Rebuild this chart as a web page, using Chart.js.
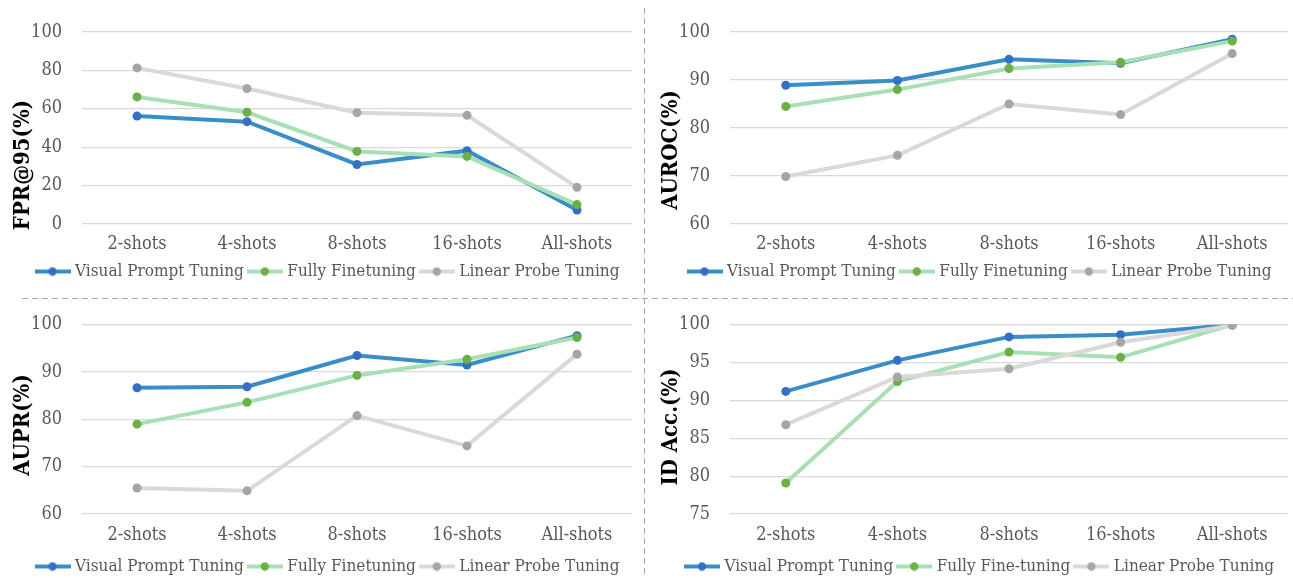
<!DOCTYPE html>
<html>
<head>
<meta charset="utf-8">
<script src="https://cdn.jsdelivr.net/npm/chart.js@4.4.0/dist/chart.umd.min.js"></script>
<style>
  body { margin: 0; background: #fff; width: 1293px; height: 578px; position: relative; overflow: hidden; }
  .panel { position: absolute; }
  .vdash { position: absolute; left: 644px; top: 8px; width: 1px; height: 570px;
    background: repeating-linear-gradient(to bottom, #a6a6a6 0 6px, transparent 6px 10px); }
  .hdash { position: absolute; left: 22px; top: 298px; height: 1px; width: 1271px;
    background: repeating-linear-gradient(to right, #a6a6a6 0 6px, transparent 6px 10px); }
</style>
</head>
<body>
<div class="panel" style="left:0;top:0;width:644px;height:298px"><canvas id="fpr"></canvas></div>
<div class="panel" style="left:645px;top:0;width:648px;height:298px"><canvas id="auroc"></canvas></div>
<div class="panel" style="left:0;top:294px;width:644px;height:304px"><canvas id="aupr"></canvas></div>
<div class="panel" style="left:645px;top:294px;width:648px;height:304px"><canvas id="acc"></canvas></div>
<div class="vdash"></div>
<div class="hdash"></div>

<script>
// === Data ===
const categories = ['2-shots', '4-shots', '8-shots', '16-shots', 'All-shots'];
const seriesNames = ['Visual Prompt Tuning', 'Fully Finetuning', 'Linear Probe Tuning'];
const seriesNamesAcc = ['Visual Prompt Tuning', 'Fully Fine-tuning', 'Linear Probe Tuning'];

const fprVpt = [56.2, 53.3, 31.0, 38.2, 7.3];
const fprFull = [66.2, 58.2, 37.8, 35.2, 10.1];
const fprLinear = [81.3, 70.6, 58.0, 56.6, 19.1];

const aurocVpt = [88.9, 89.9, 94.3, 93.5, 98.5];
const aurocFull = [84.5, 88.0, 92.4, 93.7, 98.1];
const aurocLinear = [69.9, 74.3, 85.0, 82.8, 95.5];

const auprVpt = [86.7, 86.9, 93.5, 91.5, 97.7];
const auprFull = [79.0, 83.6, 89.3, 92.7, 97.3];
const auprLinear = [65.5, 64.9, 80.8, 74.4, 93.8];

const accVpt = [91.2, 95.3, 98.4, 98.7, 100.0];
const accFull = [79.1, 92.5, 96.4, 95.7, 100.0];
const accLinear = [86.8, 93.1, 94.2, 97.7, 99.9];

// axis ranges: [min, max, step]
const fprRange = [0, 100, 20];
const aurocRange = [60, 100, 10];
const auprRange = [60, 100, 10];
const accRange = [75, 100, 5];

// === Styles ===
const lineColors = ['#3a8ec8', '#a8dfb4', '#d9d9d9'];
const pointColors = ['#3370c5', '#6bb045', '#a5a5a5'];
const serif = '"DejaVu Serif Condensed", "DejaVu Serif", serif';

function legendIcon(lineColor, pointColor) {
  const c = document.createElement('canvas');
  c.width = 36; c.height = 10;
  const g = c.getContext('2d');
  g.strokeStyle = lineColor; g.lineWidth = 4;
  g.beginPath(); g.moveTo(0, 5); g.lineTo(36, 5); g.stroke();
  g.fillStyle = pointColor;
  g.beginPath(); g.arc(18, 5, 4.2, 0, Math.PI * 2); g.fill();
  return c;
}
const icons = lineColors.map((c, i) => legendIcon(c, pointColors[i]));

// rotated y title, placed like the original
const axisTitle = {
  id: 'axisTitle',
  afterDraw(chart, args, opts) {
    const ctx = chart.ctx;
    ctx.save();
    ctx.translate(opts.x, opts.y);
    ctx.rotate(-Math.PI / 2);
    ctx.font = 'bold 22px ' + serif;
    ctx.fillStyle = '#000';
    ctx.textAlign = 'center';
    ctx.textBaseline = 'middle';
    ctx.fillText(opts.text, 0, 0);
    ctx.restore();
  }
};

function makeChart(id, names, values, range, title, pad, titlePos) {
  const datasets = values.map((v, i) => ({
    label: names[i],
    data: v,
    borderColor: lineColors[i],
    backgroundColor: pointColors[i],
    pointBackgroundColor: pointColors[i],
    pointBorderWidth: 0,
    pointRadius: 4.5,
    borderWidth: 4,
    tension: 0,
    order: 3 - i
  }));

  return new Chart(document.getElementById(id), {
    type: 'line',
    data: { labels: categories, datasets: datasets },
    plugins: [axisTitle],
    options: {
      responsive: true,
      maintainAspectRatio: false,
      animation: false,
      layout: { padding: { left: pad.left, right: pad.right, top: pad.top, bottom: pad.bottom } },
      plugins: {
        tooltip: { enabled: false },
        axisTitle: { text: title, x: titlePos[0], y: titlePos[1] },
        legend: {
          position: 'bottom',
          labels: {
            usePointStyle: true,
            pointStyleWidth: 28,
            padding: 7,
            color: '#595959',
            font: { family: serif, size: 17 },
            sort: (a, b) => a.datasetIndex - b.datasetIndex,
            generateLabels(chart) {
              const items = Chart.defaults.plugins.legend.labels.generateLabels(chart);
              items.forEach(it => { it.pointStyle = icons[it.datasetIndex]; });
              return items;
            }
          }
        }
      },
      scales: {
        x: {
          offset: true,
          grid: { display: false },
          border: { display: false },
          ticks: { color: '#595959', font: { family: serif, size: 18 }, padding: pad.tick },
          afterFit: s => { s.height = pad.xh; }
        },
        y: {
          min: range[0],
          max: range[1],
          ticks: { stepSize: range[2], color: '#595959', font: { family: serif, size: 18 }, padding: 20 },
          grid: { color: '#d9d9d9', lineWidth: 1.3, drawTicks: false },
          border: { display: false },
          afterFit: s => { s.width = pad.yw; }
        }
      }
    }
  });
}

makeChart('fpr', seriesNames, [fprVpt, fprFull, fprLinear], fprRange, 'FPR@95(%)',
  { left: 26, right: 12, top: 32, bottom: 8, yw: 56, xh: 32, tick: 2 }, [23, 165]);
makeChart('auroc', seriesNames, [aurocVpt, aurocFull, aurocLinear], aurocRange, 'AUROC(%)',
  { left: 29, right: 5, top: 32, bottom: 8, yw: 56, xh: 32, tick: 2 }, [26, 150]);
makeChart('aupr', seriesNames, [auprVpt, auprFull, auprLinear], auprRange, 'AUPR(%)',
  { left: 26, right: 12, top: 24, bottom: 13, yw: 56, xh: 37, tick: 3 }, [23, 131]);
makeChart('acc', seriesNamesAcc, [accVpt, accFull, accLinear], accRange, 'ID Acc.(%)',
  { left: 29, right: 5, top: 24, bottom: 13, yw: 56, xh: 37, tick: 3 }, [26, 133]);
</script>
</body>
</html>
